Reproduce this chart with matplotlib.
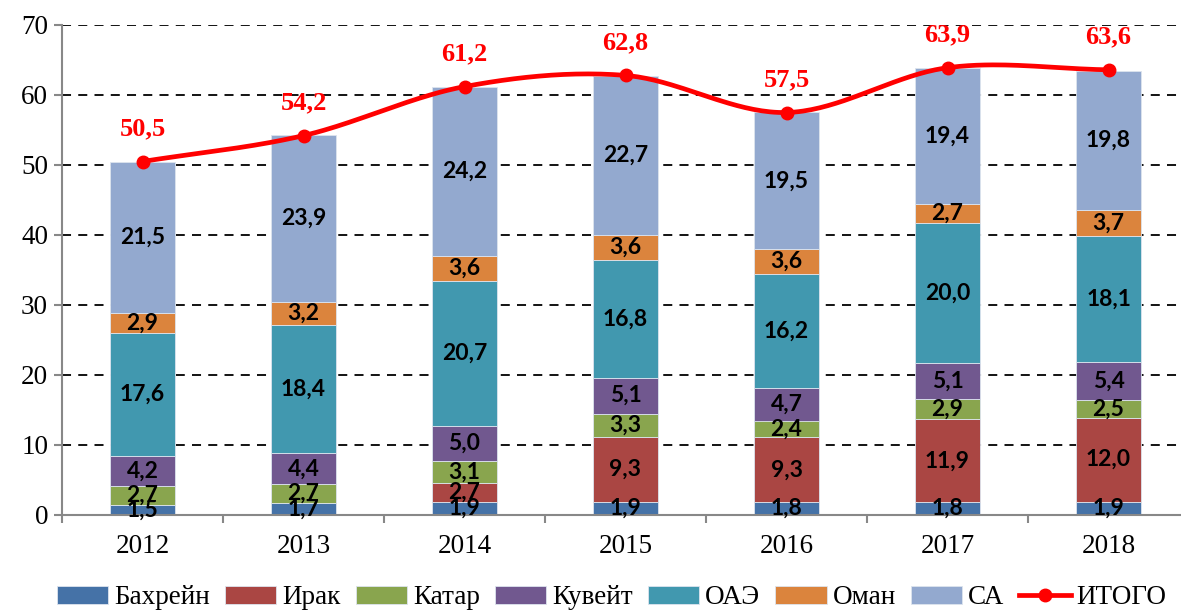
import matplotlib.pyplot as plt
import numpy as np

years = ['2012', '2013', '2014', '2015', '2016', '2017', '2018']
countries = ['Бахрейн', 'Ирак', 'Катар', 'Кувейт', 'ОАЭ', 'Оман', 'СА']
colors = ['#4572A7', '#AA4643', '#89A54E', '#71588F', '#4198AF', '#DB843D', '#93A9CF']

bahrain = [1.5, 1.7, 1.9, 1.9, 1.8, 1.8, 1.9]
iraq = [0.0, 0.0, 2.7, 9.3, 9.3, 11.9, 12.0]
qatar = [2.7, 2.7, 3.1, 3.3, 2.4, 2.9, 2.5]
kuwait = [4.2, 4.4, 5.0, 5.1, 4.7, 5.1, 5.4]
uae = [17.6, 18.4, 20.7, 16.8, 16.2, 20.0, 18.1]
oman = [2.9, 3.2, 3.6, 3.6, 3.6, 2.7, 3.7]
saudi = [21.5, 23.9, 24.2, 22.7, 19.5, 19.4, 19.8]
total = [50.5, 54.2, 61.2, 62.8, 57.5, 63.9, 63.6]

series = [bahrain, iraq, qatar, kuwait, uae, oman, saudi]


def fmt(v):
    return f'{v:.1f}'.replace('.', ',')


def smooth(xs, ys, n=40):
    # сглаженная линия как в Excel (Catmull-Rom)
    px = np.concatenate([[2 * xs[0] - xs[1]], xs, [2 * xs[-1] - xs[-2]]])
    py = np.concatenate([[2 * ys[0] - ys[1]], ys, [2 * ys[-1] - ys[-2]]])
    ox, oy = [], []
    for i in range(1, len(px) - 2):
        t = np.linspace(0, 1, n)
        for p, out in ((px, ox), (py, oy)):
            p0, p1, p2, p3 = p[i - 1], p[i], p[i + 1], p[i + 2]
            out.extend(0.5 * (2 * p1 + (-p0 + p2) * t + (2 * p0 - 5 * p1 + 4 * p2 - p3) * t ** 2
                              + (-p0 + 3 * p1 - 3 * p2 + p3) * t ** 3))
    return ox, oy


fig = plt.figure(figsize=(11.81, 6.13), dpi=100)
ax = fig.add_axes([62 / 1181, 98 / 613, 1127 / 1181, 490 / 613])

x = np.arange(len(years))
bottom = np.zeros(len(years))
handles = []
for name, vals, c in zip(countries, series, colors):
    vals = np.array(vals)
    bars = ax.bar(x, vals, 0.4, bottom=bottom, color=c, edgecolor='#dde4ee', linewidth=0.6,
                  label=name, zorder=2)
    handles.append(bars)
    for xi, b, v in zip(x, bottom, vals):
        if v > 0:
            ax.text(xi, b + v / 2, fmt(v), ha='center', va='center', fontsize=16.5,
                    fontweight='bold', family='Lato', color='black', zorder=4)
    bottom += vals

sx, sy = smooth(x.astype(float), np.array(total))
ax.plot(sx, sy, color='#FF0000', lw=3.4, zorder=5, solid_capstyle='round')
ax.plot(x, total, 'o', color='#FF0000', ms=9, zorder=6)
line, = ax.plot([], [], color='#FF0000', lw=3.4, marker='o', ms=9, label='ИТОГО')
handles.append(line)
for xi, t in zip(x, total):
    ax.text(xi, t + 4.7, fmt(t), ha='center', va='center', fontsize=19, fontweight='bold',
            family='Liberation Serif', color='#FF0000', zorder=6)

ax.set_xlim(-0.5, 6.5)
ax.set_ylim(0, 70)
ax.set_yticks(range(0, 71, 10))
ax.yaxis.grid(True, color='black', linestyle=(0, (5, 4)), lw=1.3)
ax.set_axisbelow(True)
ax.set_xticks(x)
ax.set_xticklabels(years)
ax.set_xticks(np.arange(-0.5, 7, 1), minor=True)
ax.tick_params(axis='x', which='major', length=0, pad=14)
ax.tick_params(axis='x', which='minor', length=6, color='#888888', width=1.5)
ax.tick_params(axis='y', length=6, color='#888888', width=1.5, pad=4)
for lab in ax.get_xticklabels() + ax.get_yticklabels():
    lab.set_family('Liberation Serif')
    lab.set_fontsize(19.5)
for s in ['top', 'right']:
    ax.spines[s].set_visible(False)
for s in ['left', 'bottom']:
    ax.spines[s].set_color('#888888')
    ax.spines[s].set_linewidth(1.5)

fig.legend(handles, countries + ['ИТОГО'], loc='lower center', bbox_to_anchor=(0.518, -0.035),
           ncol=8, frameon=False, prop={'family': 'Liberation Serif', 'size': 19.5},
           handlelength=1.9, handleheight=0.65, columnspacing=0.55, handletextpad=0.22)

fig.savefig('out.png', dpi=100)
